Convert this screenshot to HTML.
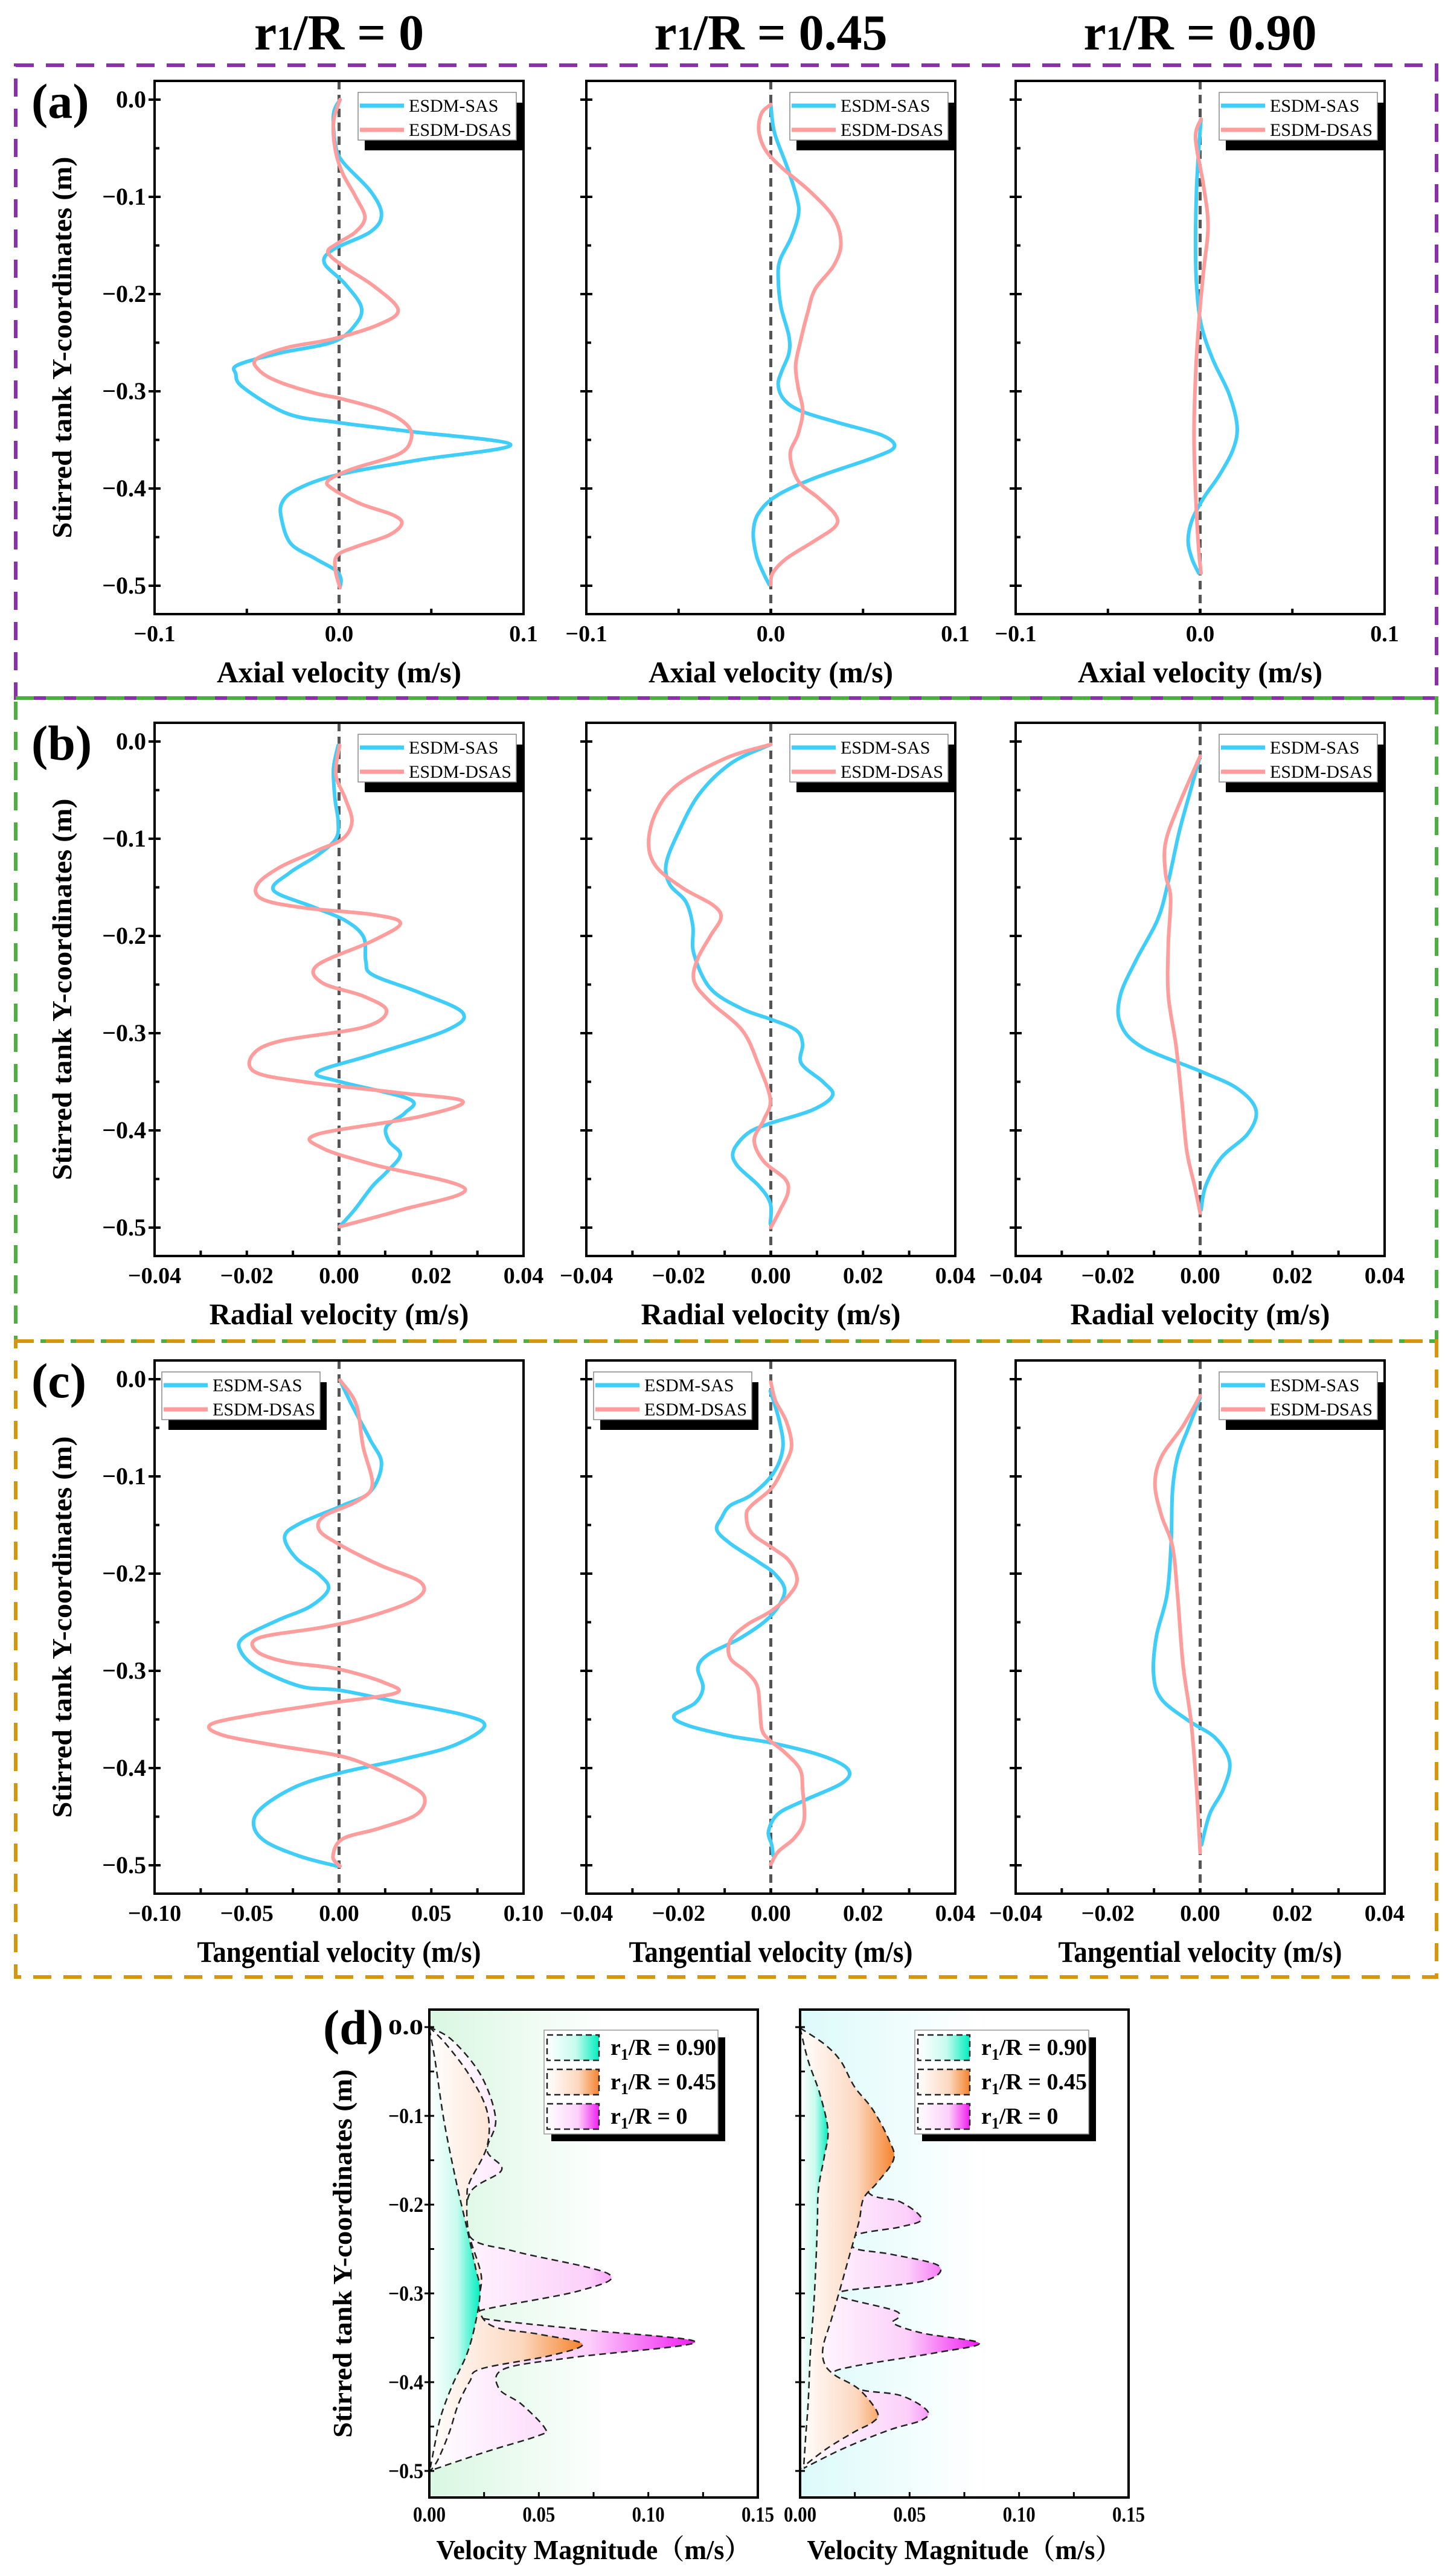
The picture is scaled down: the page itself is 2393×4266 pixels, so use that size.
<!DOCTYPE html>
<html><head><meta charset="utf-8"><style>
html,body{margin:0;padding:0;background:#fff}
svg{display:block}
text{font-family:"Liberation Serif","Noto Serif CJK SC",serif}
</style></head><body>
<svg id="fig" width="2393" height="4266" viewBox="0 0 2393 4266" xmlns="http://www.w3.org/2000/svg">
<defs>
<linearGradient id="gTeal" x1="0" x2="1" y1="0" y2="0"><stop offset="0" stop-color="#fff"/><stop offset="0.55" stop-color="#c8fbee"/><stop offset="1" stop-color="#00efc0"/></linearGradient>
<linearGradient id="gOrange" x1="0" x2="1" y1="0" y2="0"><stop offset="0" stop-color="#fff"/><stop offset="0.6" stop-color="#fcd8c0"/><stop offset="1" stop-color="#f5842e"/></linearGradient>
<linearGradient id="gMag" x1="0" x2="1" y1="0" y2="0"><stop offset="0" stop-color="#fff"/><stop offset="0.6" stop-color="#fcd0fa"/><stop offset="1" stop-color="#f01ef0"/></linearGradient>
<linearGradient id="bg1" x1="0" x2="1" y1="0" y2="0"><stop offset="0" stop-color="#d9f7e2"/><stop offset="0.55" stop-color="#fff"/></linearGradient>
<linearGradient id="bg2" x1="0" x2="1" y1="0" y2="0"><stop offset="0" stop-color="#dcfafa"/><stop offset="0.55" stop-color="#fff"/></linearGradient>
</defs>
</svg>
<script>
// ---- data: panel (a) axial ----
const a1SasY=[0,-0.015,-0.046,-0.064,-0.094,-0.118,-0.136,-0.154,-0.168,-0.189,-0.213,-0.231,-0.249,-0.261,-0.273,-0.282,-0.296,-0.323,-0.332,-0.341,-0.355,-0.371,-0.386,-0.401,-0.415,-0.433,-0.457,-0.472,-0.484,-0.493,-0.502];
const a1SasX=[0.0005,-0.003,-0.002,0.002,0.017,0.023,0.017,-0.003,-0.008,0.003,0.012,0.009,-0.003,-0.033,-0.055,-0.056,-0.052,-0.028,-0.001,0.037,0.093,0.042,-0.001,-0.023,-0.031,-0.031,-0.026,-0.013,-0.002,0.001,0.0005];
const a1DsasY=[0,-0.023,-0.052,-0.076,-0.1,-0.121,-0.136,-0.148,-0.157,-0.171,-0.192,-0.216,-0.231,-0.246,-0.255,-0.267,-0.279,-0.29,-0.302,-0.308,-0.32,-0.335,-0.35,-0.365,-0.38,-0.392,-0.401,-0.416,-0.427,-0.436,-0.448,-0.46,-0.469,-0.484,-0.502];
const a1DsasX=[0.0005,-0.003,-0.002,0.002,0.009,0.014,0.009,-0.001,-0.006,0.002,0.019,0.032,0.022,-0.003,-0.028,-0.045,-0.043,-0.033,-0.013,0.002,0.024,0.037,0.039,0.032,0.007,-0.006,-0.003,0.012,0.029,0.034,0.027,0.009,-0.001,-0.002,0.0005];
const a2SasY=[-0.005,-0.034,-0.07,-0.1,-0.118,-0.142,-0.165,-0.183,-0.213,-0.243,-0.261,-0.279,-0.293,-0.308,-0.32,-0.332,-0.345,-0.357,-0.368,-0.389,-0.407,-0.425,-0.445,-0.469,-0.487,-0.499];
const a2SasX=[0,0.002,0.009,0.014,0.015,0.011,0.005,0.004,0.0055,0.0098,0.0098,0.006,0.004,0.007,0.016,0.036,0.06,0.067,0.056,0.024,0.0035,-0.0065,-0.0095,-0.0078,-0.004,-0.0008];
const a2DsasY=[-0.005,-0.014,-0.032,-0.052,-0.07,-0.094,-0.121,-0.148,-0.171,-0.195,-0.219,-0.249,-0.273,-0.296,-0.32,-0.344,-0.365,-0.392,-0.41,-0.427,-0.439,-0.454,-0.472,-0.487,-0.499];
const a2DsasX=[0,-0.005,-0.0065,-0.0028,0.006,0.021,0.034,0.038,0.034,0.024,0.02,0.016,0.0135,0.0148,0.0173,0.0148,0.0105,0.0148,0.026,0.035,0.035,0.0236,0.0085,0.001,0];
const a3SasY=[-0.02,-0.052,-0.094,-0.148,-0.189,-0.231,-0.267,-0.302,-0.335,-0.359,-0.386,-0.41,-0.433,-0.454,-0.472,-0.487];
const a3SasX=[0.0005,-0.0008,-0.002,-0.0025,-0.002,0.0005,0.0068,0.0155,0.02,0.018,0.0105,0.0018,-0.0045,-0.0065,-0.0045,-0.0008];
const a3DsasY=[-0.02,-0.04,-0.088,-0.13,-0.177,-0.231,-0.285,-0.344,-0.404,-0.463,-0.487];
const a3DsasX=[0.0005,-0.0025,0.0018,0.0043,0.0018,-0.0008,-0.0025,-0.0033,-0.0025,-0.0008,0.0005];
// ---- panel (b) radial ----
const b1SasY=[-0.004,-0.028,-0.058,-0.082,-0.1,-0.117,-0.135,-0.153,-0.17,-0.184,-0.201,-0.226,-0.24,-0.258,-0.279,-0.297,-0.322,-0.34,-0.35,-0.368,-0.382,-0.396,-0.411,-0.425,-0.443,-0.457,-0.482,-0.499];
const b1SasX=[-0.0002,-0.0012,-0.0009,-0.0002,-0.0007,-0.0047,-0.0107,-0.0142,-0.0057,0.0013,0.0053,0.0058,0.0073,0.0173,0.0268,0.0233,0.0073,-0.0047,0.0003,0.0153,0.0143,0.0103,0.0108,0.0133,0.0103,0.0073,0.0033,0.0001];
const b1DsasY=[-0.004,-0.034,-0.058,-0.082,-0.1,-0.112,-0.129,-0.147,-0.162,-0.171,-0.178,-0.187,-0.205,-0.23,-0.248,-0.262,-0.277,-0.294,-0.308,-0.322,-0.34,-0.35,-0.361,-0.37,-0.386,-0.404,-0.418,-0.435,-0.46,-0.482,-0.499];
const b1DsasX=[0.0001,-0.0007,0.0013,0.0028,0.0008,-0.0047,-0.0127,-0.0177,-0.0167,-0.0077,0.0073,0.0133,0.0073,-0.0047,-0.0037,0.0053,0.0103,0.0053,-0.0127,-0.0187,-0.0182,-0.0077,0.0123,0.0268,0.0173,-0.0047,-0.0037,0.0073,0.0273,0.0133,0.0001];
const b2SasY=[-0.003,-0.022,-0.054,-0.094,-0.126,-0.147,-0.165,-0.19,-0.218,-0.254,-0.275,-0.286,-0.297,-0.311,-0.331,-0.35,-0.364,-0.379,-0.393,-0.403,-0.421,-0.436,-0.457,-0.475,-0.496];
const b2SasX=[0,-0.0085,-0.0155,-0.0201,-0.0227,-0.0219,-0.0184,-0.0169,-0.0167,-0.0131,-0.0062,0.0002,0.0055,0.0069,0.0066,0.0113,0.0134,0.009,-0.0003,-0.005,-0.0081,-0.0073,-0.0026,-0.0001,-0.0001];
const b2DsasY=[-0.003,-0.017,-0.044,-0.072,-0.104,-0.129,-0.151,-0.168,-0.181,-0.2,-0.225,-0.247,-0.268,-0.297,-0.332,-0.368,-0.389,-0.41,-0.432,-0.45,-0.464,-0.482,-0.5];
const b2DsasX=[0,-0.0097,-0.0201,-0.0248,-0.0265,-0.0248,-0.019,-0.0126,-0.0108,-0.0131,-0.016,-0.0166,-0.0131,-0.0062,-0.0027,-0.0001,-0.0015,-0.0036,-0.0015,0.0031,0.0037,0.002,0];
const b3SasY=[-0.015,-0.054,-0.094,-0.144,-0.183,-0.225,-0.261,-0.29,-0.314,-0.339,-0.357,-0.379,-0.403,-0.428,-0.457,-0.482];
const b3SasX=[0,-0.0023,-0.0046,-0.0069,-0.0092,-0.0139,-0.0173,-0.0173,-0.0127,0,0.0081,0.0121,0.0104,0.0046,0.0012,0.0002];
const b3DsasY=[-0.015,-0.065,-0.104,-0.136,-0.161,-0.208,-0.261,-0.314,-0.368,-0.421,-0.457,-0.485];
const b3DsasX=[0,-0.0046,-0.0075,-0.0075,-0.0064,-0.0069,-0.0069,-0.0052,-0.004,-0.0029,-0.0012,0];
// ---- panel (c) tangential ----
const c1SasY=[-0.001,-0.026,-0.062,-0.087,-0.116,-0.13,-0.148,-0.162,-0.184,-0.201,-0.216,-0.234,-0.248,-0.266,-0.28,-0.298,-0.316,-0.32,-0.331,-0.345,-0.357,-0.377,-0.391,-0.405,-0.419,-0.441,-0.459,-0.476,-0.491,-0.501];
const c1SasX=[0.0005,0.0068,0.0168,0.023,0.0168,0.0018,-0.0208,-0.0295,-0.0233,-0.0108,-0.0058,-0.0158,-0.0333,-0.052,-0.0533,-0.0433,-0.0208,0.0005,0.0293,0.0668,0.0788,0.0618,0.0343,0.0005,-0.0233,-0.042,-0.0463,-0.0395,-0.0208,-0.0008];
const c1DsasY=[-0.001,-0.026,-0.069,-0.109,-0.126,-0.141,-0.155,-0.169,-0.191,-0.209,-0.226,-0.244,-0.255,-0.266,-0.28,-0.291,-0.298,-0.312,-0.323,-0.334,-0.345,-0.355,-0.366,-0.377,-0.387,-0.398,-0.416,-0.43,-0.448,-0.462,-0.473,-0.491,-0.501];
const c1DsasX=[0.0005,0.0093,0.013,0.018,0.0093,-0.0083,-0.0108,-0.0008,0.0218,0.0443,0.0418,0.0168,-0.0083,-0.0433,-0.0445,-0.0283,-0.0008,0.0243,0.0305,-0.0083,-0.0458,-0.0695,-0.0633,-0.0333,-0.0008,0.0168,0.0368,0.0463,0.0418,0.0218,0.0018,-0.0033,0.0005];
const c2SasY=[-0.012,-0.044,-0.071,-0.097,-0.119,-0.13,-0.142,-0.155,-0.169,-0.187,-0.201,-0.219,-0.244,-0.266,-0.283,-0.297,-0.317,-0.333,-0.346,-0.356,-0.367,-0.374,-0.387,-0.401,-0.415,-0.433,-0.447,-0.465,-0.479,-0.49];
const c2SasX=[-0.0001,0.0019,0.0026,0.0005,-0.0042,-0.0088,-0.0106,-0.0117,-0.0088,-0.003,0.001,0.003,-0.0001,-0.0065,-0.0135,-0.0158,-0.0147,-0.0164,-0.021,-0.0181,-0.0088,0,0.0109,0.0167,0.0156,0.0074,0.0016,-0.0005,0.0002,0.0005];
const c2DsasY=[-0.003,-0.022,-0.044,-0.069,-0.09,-0.112,-0.13,-0.14,-0.158,-0.174,-0.187,-0.206,-0.222,-0.239,-0.253,-0.269,-0.287,-0.301,-0.315,-0.337,-0.361,-0.372,-0.383,-0.401,-0.422,-0.454,-0.472,-0.486,-0.499];
const c2DsasX=[0,0.001,0.0034,0.0045,0.0028,0.0002,-0.0042,-0.0053,-0.0042,0.0005,0.004,0.0057,0.004,-0.0001,-0.0053,-0.0088,-0.0088,-0.0053,-0.003,-0.0024,-0.0019,-0.0001,0.0028,0.0063,0.0069,0.0072,0.0051,0.0016,0];
const c3SasY=[-0.019,-0.051,-0.08,-0.115,-0.169,-0.222,-0.265,-0.304,-0.329,-0.351,-0.369,-0.394,-0.422,-0.447,-0.479];
const c3SasX=[0,-0.0026,-0.0049,-0.006,-0.0063,-0.0072,-0.0095,-0.0101,-0.0084,-0.0026,0.0033,0.0064,0.005,0.0021,0.0003];
const c3DsasY=[-0.017,-0.048,-0.08,-0.108,-0.14,-0.172,-0.222,-0.294,-0.351,-0.419,-0.487];
const c3DsasX=[0,-0.0037,-0.0084,-0.0098,-0.0084,-0.006,-0.0049,-0.0037,-0.002,-0.0008,0];
// ---- panel (d) velocity magnitude ----
const d1TealY=[-0.002,-0.037,-0.104,-0.17,-0.227,-0.271,-0.297,-0.333,-0.368,-0.403,-0.438,-0.469,-0.496];
const d1TealX=[0,0.0026,0.0066,0.0119,0.0172,0.0211,0.0232,0.0211,0.0172,0.0106,0.0053,0.0026,0.0005];
const d1OrangeY=[0,-0.02,-0.055,-0.095,-0.134,-0.174,-0.192,-0.231,-0.28,-0.315,-0.337,-0.346,-0.357,-0.37,-0.385,-0.399,-0.425,-0.456,-0.487,-0.5];
const d1OrangeX=[0,0.0079,0.0185,0.0264,0.0264,0.0185,0.0172,0.0179,0.0237,0.0224,0.029,0.0501,0.0699,0.0554,0.0237,0.0185,0.0132,0.0092,0.004,0.0005];
const d1MagY=[0,-0.015,-0.055,-0.104,-0.139,-0.161,-0.187,-0.236,-0.253,-0.278,-0.297,-0.319,-0.328,-0.341,-0.355,-0.372,-0.385,-0.407,-0.425,-0.452,-0.46,-0.478,-0.5];
const d1MagX=[0,0.0106,0.0237,0.0303,0.0264,0.033,0.0185,0.0185,0.0396,0.0818,0.0686,0.0237,0.0237,0.0712,0.1214,0.066,0.0343,0.0317,0.0422,0.0528,0.0501,0.0264,0];
const d2TealY=[-0.001,-0.038,-0.075,-0.116,-0.145,-0.182,-0.219,-0.256,-0.312,-0.367,-0.423,-0.46,-0.497];
const d2TealX=[0,0.0037,0.009,0.0127,0.0111,0.0084,0.0079,0.0074,0.0063,0.0047,0.0037,0.0026,0.0016];
const d2OrangeY=[-0.001,-0.019,-0.038,-0.067,-0.093,-0.127,-0.149,-0.175,-0.193,-0.219,-0.256,-0.293,-0.33,-0.36,-0.379,-0.392,-0.408,-0.434,-0.445,-0.456,-0.475,-0.497];
const d2OrangeX=[0,0.011,0.0185,0.0248,0.0332,0.0406,0.0427,0.0353,0.029,0.0269,0.0227,0.0185,0.0142,0.0105,0.0111,0.0158,0.0269,0.0353,0.0332,0.0248,0.0121,0.0005];
const d2MagY=[-0.001,-0.034,-0.082,-0.145,-0.186,-0.197,-0.216,-0.225,-0.234,-0.249,-0.256,-0.269,-0.286,-0.297,-0.304,-0.319,-0.327,-0.334,-0.345,-0.356,-0.367,-0.382,-0.391,-0.408,-0.415,-0.432,-0.443,-0.454,-0.475,-0.497];
const d2MagX=[0,0.0142,0.0248,0.0301,0.0311,0.0459,0.0554,0.0459,0.0258,0.0248,0.0417,0.0633,0.0564,0.0206,0.0185,0.0427,0.0448,0.0427,0.0564,0.0818,0.0617,0.0248,0.0153,0.0269,0.0459,0.058,0.0554,0.0406,0.0195,0.0016];
const yTickVals=[0,-0.1,-0.2,-0.3,-0.4,-0.5];
const yTickLabels=["0.0","\u22120.1","\u22120.2","\u22120.3","\u22120.4","\u22120.5"];
const axialTicks=[-0.1,0,0.1], axialLabels=["\u22120.1","0.0","0.1"];
const radTicks=[-0.04,-0.02,0,0.02,0.04], radLabels=["\u22120.04","\u22120.02","0.00","0.02","0.04"];
const tanTicks=[-0.1,-0.05,0,0.05,0.1], tanLabels=["\u22120.10","\u22120.05","0.00","0.05","0.10"];
const magTicks=[0,0.05,0.1,0.15], magLabels=["0.00","0.05","0.10","0.15"];
const colTitles=["0","0.45","0.90"];

const NS="http://www.w3.org/2000/svg";
const svg=document.getElementById('fig');
function el(tag,attrs,parent){const e=document.createElementNS(NS,tag);for(const k in attrs)e.setAttribute(k,attrs[k]);(parent||svg).appendChild(e);return e;}
function txt(s,attrs,parent){const t=el('text',attrs,parent);t.textContent=s;return t;}
function smooth(p){let d='M'+p[0][0].toFixed(1)+','+p[0][1].toFixed(1);for(let i=0;i<p.length-1;i++){const p0=p[Math.max(0,i-1)],p1=p[i],p2=p[i+1],p3=p[Math.min(p.length-1,i+2)];const c1=[p1[0]+(p2[0]-p0[0])/6,p1[1]+(p2[1]-p0[1])/6],c2=[p2[0]-(p3[0]-p1[0])/6,p2[1]-(p3[1]-p1[1])/6];d+='C'+c1[0].toFixed(1)+','+c1[1].toFixed(1)+' '+c2[0].toFixed(1)+','+c2[1].toFixed(1)+' '+p2[0].toFixed(1)+','+p2[1].toFixed(1);}return d;}

function dashRect(x1,y1,x2,y2,color,name){const r=el('rect',{x:x1,y:y1,width:x2-x1,height:y2-y1,fill:'none',stroke:color,'stroke-width':6,'stroke-dasharray':'30 20'});}
dashRect(26,108,2379,1156,'#8a30aa','panel-a-border');
dashRect(26,1156,2379,2221,'#4cb040','panel-b-border');
dashRect(26,2221,2379,3274,'#d6960c','panel-c-border');

const colL=[256,971,1682], W=611;
colTitles.forEach((v,i)=>{const t=el('text',{x:colL[i]+W/2,y:82,'text-anchor':'middle','font-size':84,'font-weight':'bold'});
 const a=document.createElementNS(NS,'tspan');a.textContent='r';t.appendChild(a);const b=document.createElementNS(NS,'tspan');b.setAttribute('font-size',56);b.textContent='1';t.appendChild(b);const c=document.createElementNS(NS,'tspan');c.textContent='/R = '+v;t.appendChild(c);});

const rows=[
 {key:'a',y0:165,title:'Axial velocity (m/s)',dom:[[-0.1,0.1],[-0.1,0.1],[-0.1,0.1]],ticks:[[axialTicks,axialLabels],[axialTicks,axialLabels],[axialTicks,axialLabels]],minor:[0.05,0.05,0.05],legRight:[1,1,1],
  data:[[a1SasY,a1SasX,a1DsasY,a1DsasX],[a2SasY,a2SasX,a2DsasY,a2DsasX],[a3SasY,a3SasX,a3DsasY,a3DsasX]]},
 {key:'b',y0:1228,title:'Radial velocity (m/s)',dom:[[-0.04,0.04],[-0.04,0.04],[-0.04,0.04]],ticks:[[radTicks,radLabels],[radTicks,radLabels],[radTicks,radLabels]],minor:[0.01,0.01,0.01],legRight:[1,1,1],
  data:[[b1SasY,b1SasX,b1DsasY,b1DsasX],[b2SasY,b2SasX,b2DsasY,b2DsasX],[b3SasY,b3SasX,b3DsasY,b3DsasX]]},
 {key:'c',y0:2284,title:'Tangential velocity (m/s)',dom:[[-0.1,0.1],[-0.04,0.04],[-0.04,0.04]],ticks:[[tanTicks,tanLabels],[radTicks,radLabels],[radTicks,radLabels]],minor:[0.025,0.01,0.01],legRight:[0,0,1],
  data:[[c1SasY,c1SasX,c1DsasY,c1DsasX],[c2SasY,c2SasX,c2DsasY,c2DsasX],[c3SasY,c3SasX,c3DsasY,c3DsasX]]}
];

rows.forEach(row=>{
 const top=row.y0-31,bot=row.y0+852;
 const pl=txt('('+row.key+')',{x:52,y:row.y0+30,'font-size':82,'font-weight':'bold'});
 
 
 for(let c=0;c<3;c++){
  const L=colL[c],R=L+W,dom=row.dom[c];
  const g=el('g',{});
  
  
  const xs=v=>L+(v-dom[0])/(dom[1]-dom[0])*W;
  const ys=v=>row.y0-v*1610;
  const cp='cp'+row.key+c;
  const clip=el('clipPath',{id:cp},g);el('rect',{x:L,y:top,width:W,height:bot-top},clip);
  const z=el('line',{x1:xs(0),x2:xs(0),y1:top,y2:bot,stroke:'#555','stroke-width':5,'stroke-dasharray':'14 9'},g);
  
  
  const d=row.data[c];
  [[d[0],d[1],'#3fcdfa','esdm-sas-line'],[d[2],d[3],'#ff9c9c','esdm-dsas-line']].forEach(s=>{
   const pts=s[0].map((y,i)=>[xs(s[1][i]),ys(y)]);
   const p=el('path',{d:smooth(pts),fill:'none',stroke:s[2],'stroke-width':6,'stroke-linejoin':'round','stroke-linecap':'round','clip-path':'url(#'+cp+')'},g);
   
   
  });
  el('rect',{x:L,y:top,width:W,height:bot-top,fill:'none',stroke:'#000','stroke-width':4},g);
  for(let v=0;v>=-0.5001;v-=0.05){const major=Math.abs(Math.round(v*10)-v*10)<1e-6;el('line',{x1:L-(major?10:0),x2:L+(major?10:8),y1:ys(v),y2:ys(v),stroke:'#000','stroke-width':4},g);}
  if(c===0){yTickVals.forEach((v,i)=>{const t=txt(yTickLabels[i],{x:L-14,y:ys(v)+13,'text-anchor':'end','font-size':40,'font-weight':'bold'},g);});
   const yt=txt('Stirred tank Y-coordinates (m)',{transform:'translate(118,'+((top+bot)/2)+') rotate(-90)','text-anchor':'middle','font-size':46,'font-weight':'bold',textLength:632,lengthAdjust:'spacingAndGlyphs'},g);
   }
  const mi=row.minor[c];
  for(let v=dom[0];v<=dom[1]+1e-9;v+=mi){el('line',{x1:xs(v),x2:xs(v),y1:bot,y2:bot-9,stroke:'#000','stroke-width':4},g);}
  const tk=row.ticks[c];
  tk[0].forEach((v,i)=>{const t=txt(tk[1][i],{x:xs(v),y:bot+45,'text-anchor':'middle','font-size':38,'font-weight':'bold'},g);});
  const xt=txt(row.title,{x:L+W/2,y:bot+113,'text-anchor':'middle','font-size':50,'font-weight':'bold',textLength:row.key==='c'?470:(row.key==='b'?430:405),lengthAdjust:'spacingAndGlyphs'},g);
  
  const lx=row.legRight[c]?R-274:L+12, ly=top+19;
  const lg=el('g',{},g);
  
  
  el('rect',{x:lx+11,y:ly+17,width:262,height:79,fill:'#000'},lg);
  el('rect',{x:lx,y:ly,width:262,height:79,fill:'#fff',stroke:'#888','stroke-width':1.5},lg);
  [['ESDM-SAS','#3fcdfa'],['ESDM-DSAS','#ff9c9c']].forEach((e,i)=>{const yy=ly+22+i*40;el('line',{x1:lx+3,x2:lx+76,y1:yy,y2:yy,stroke:e[1],'stroke-width':7},lg);
   const t=txt(e[0],{x:lx+84,y:yy+10,'font-size':30},lg);});
 }
});

// ---- panel (d) ----
const dL=[711,1325], dW=544, dTop=3328, dBot=4136, dY0=3357;
const dl=txt('(d)',{x:535,y:3385,'font-size':82,'font-weight':'bold'});


const dData=[[d1MagY,d1MagX,d1OrangeY,d1OrangeX,d1TealY,d1TealX],[d2MagY,d2MagX,d2OrangeY,d2OrangeX,d2TealY,d2TealX]];
dL.forEach((L,k)=>{
 const g=el('g',{});
 
 
 const xs=v=>L+v/0.15*dW, ys=v=>dY0-v*1470;
 el('rect',{x:L,y:dTop,width:dW,height:dBot-dTop,fill:'url(#bg'+(k+1)+')'},g);
 const dd=dData[k];
 [[dd[0],dd[1],'gMag','area-r-0'],[dd[2],dd[3],'gOrange','area-r-0.45'],[dd[4],dd[5],'gTeal','area-r-0.90']].forEach(s=>{
  const pts=s[0].map((y,i)=>[xs(s[1][i]),ys(y)]);
  const curve=smooth(pts);
  const a=el('path',{d:curve+'L'+L+','+pts[pts.length-1][1].toFixed(1)+'L'+L+','+pts[0][1].toFixed(1)+'Z',fill:'url(#'+s[2]+')'},g);
  
  
  el('path',{d:curve,fill:'none',stroke:'#222','stroke-width':2.5,'stroke-dasharray':'11 7'},g);
 });
 el('rect',{x:L,y:dTop,width:dW,height:dBot-dTop,fill:'none',stroke:'#000','stroke-width':4},g);
 for(let v=0;v>=-0.5001;v-=0.05){const major=Math.abs(Math.round(v*10)-v*10)<1e-6;el('line',{x1:L-(major?8:0),x2:L+8,y1:ys(v),y2:ys(v),stroke:'#000','stroke-width':3},g);}
 if(k===0){yTickVals.forEach((v,i)=>{const t=txt(yTickLabels[i],{x:L-10,y:ys(v)+12,'text-anchor':'end','font-size':36,'font-weight':'bold',textLength:58,lengthAdjust:'spacingAndGlyphs'},g);});
  const yt=txt('Stirred tank Y-coordinates (m)',{transform:'translate(582,'+((dTop+dBot)/2)+') rotate(-90)','text-anchor':'middle','font-size':44,'font-weight':'bold',textLength:610,lengthAdjust:'spacingAndGlyphs'},g);
  }
 for(let v=0;v<=0.15+1e-9;v+=0.025){el('line',{x1:xs(v),x2:xs(v),y1:dBot,y2:dBot-9,stroke:'#000','stroke-width':3},g);}
 magTicks.forEach((v,i)=>{const t=txt(magLabels[i],{x:xs(v),y:dBot+40,'text-anchor':'middle','font-size':36,'font-weight':'bold',textLength:54,lengthAdjust:'spacingAndGlyphs'},g);});
 const xt=txt('Velocity Magnitude\uFF08m/s\uFF09',{x:L+dW/2,y:4238,'text-anchor':'middle','font-size':46,'font-weight':'bold',textLength:521,lengthAdjust:'spacingAndGlyphs'},g);
 
 const lx=L+dW-66-288, ly=3362;
 const lg=el('g',{},g);
 
 
 el('rect',{x:lx+12,y:ly+12,width:288,height:172,fill:'#000'},lg);
 el('rect',{x:lx,y:ly,width:288,height:172,fill:'#fff',stroke:'#999','stroke-width':1.5},lg);
 [['0.90','gTeal'],['0.45','gOrange'],['0','gMag']].forEach((e,i)=>{const yy=ly+28+i*57;
  el('rect',{x:lx+5,y:yy-20,width:86,height:42,fill:'url(#'+e[1]+')',stroke:'#222','stroke-width':2.5,'stroke-dasharray':'10 6'},lg);
  const t=el('text',{x:lx+110,y:yy+13,'font-size':38,'font-weight':'bold'},lg);
  
  
  const a=document.createElementNS(NS,'tspan');a.textContent='r';t.appendChild(a);
  const b=document.createElementNS(NS,'tspan');b.setAttribute('font-size',26);b.setAttribute('dy',8);b.textContent='1';t.appendChild(b);
  const c=document.createElementNS(NS,'tspan');c.setAttribute('dy',-8);c.textContent='/R = '+e[0];t.appendChild(c);
 });
});
</script>
</body></html>
